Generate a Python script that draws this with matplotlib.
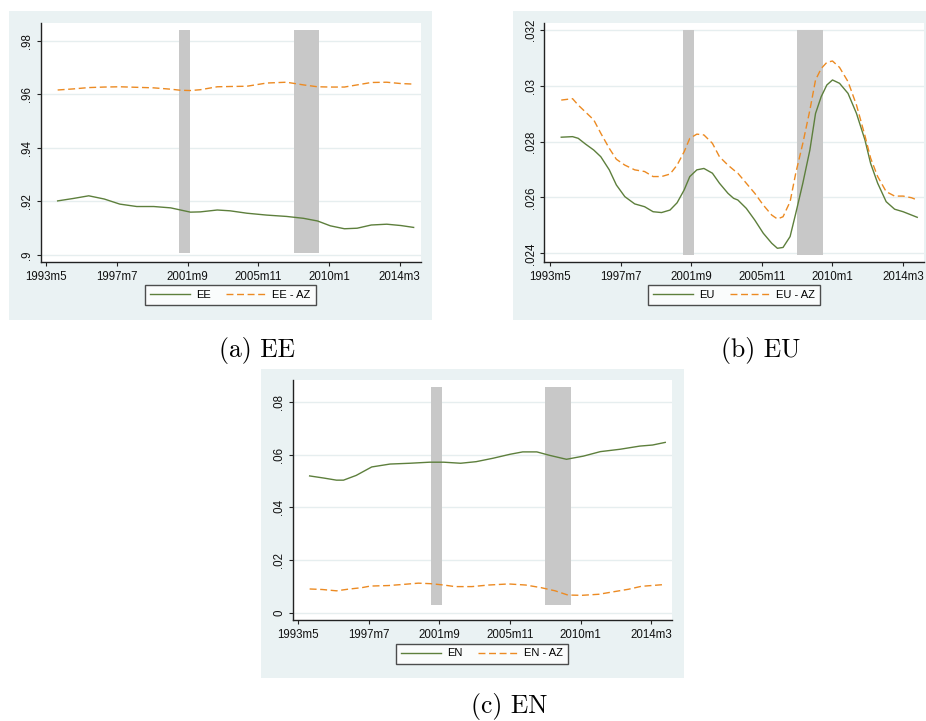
import matplotlib.pyplot as plt
from matplotlib.patches import Rectangle

W, H = 926, 721

# Panel (a) EE
ee_months = ["1994m1", "1994m12", "1995m11", "1996m10", "1997m9", "1998m9", "1999m9",
             "2000m9", "2001m4", "2001m11", "2002m6", "2003m6", "2004m3", "2005m3",
             "2006m5", "2007m7", "2008m7", "2009m5", "2010m2", "2010m12", "2011m9",
             "2012m7", "2013m6", "2014m4", "2015m1"]
ee = [0.9202, 0.9211, 0.9221, 0.9209, 0.9190, 0.9181, 0.9181, 0.9176, 0.9168, 0.9160,
      0.9161, 0.9168, 0.9165, 0.9156, 0.9149, 0.9144, 0.9137, 0.9127, 0.9109, 0.9098,
      0.9100, 0.9112, 0.9115, 0.9110, 0.9103]
ee_az = [0.9616, 0.9620, 0.9625, 0.9627, 0.9628, 0.9626, 0.9624, 0.9619, 0.9615, 0.9614,
         0.9617, 0.9628, 0.9629, 0.9630, 0.9642, 0.9645, 0.9635, 0.9628, 0.9627, 0.9627,
         0.9635, 0.9644, 0.9645, 0.9640, 0.9638]

# Panel (b) EU
eu_months = ["1994m1", "1994m9", "1995m1", "1995m6", "1995m12", "1996m5", "1996m11",
             "1997m4", "1997m10", "1998m5", "1998m12", "1999m6", "1999m12", "2000m6",
             "2000m11", "2001m4", "2001m8", "2002m1", "2002m6", "2002m12", "2003m5",
             "2003m11", "2004m3", "2004m6", "2004m12", "2005m6", "2005m12", "2006m6",
             "2006m10", "2007m2", "2007m7", "2007m11", "2008m4", "2008m9", "2009m1",
             "2009m5", "2009m9", "2010m1", "2010m6", "2010m12", "2011m6", "2011m12",
             "2012m4", "2012m9", "2013m3", "2013m9", "2014m3", "2014m9", "2015m1"]
eu = [0.02816, 0.02818, 0.02812, 0.02792, 0.02770, 0.02746, 0.02699, 0.02645, 0.02603,
      0.02577, 0.02567, 0.02549, 0.02546, 0.02555, 0.02581, 0.02627, 0.02675, 0.02699,
      0.02704, 0.02687, 0.02651, 0.02615, 0.02597, 0.02591, 0.02561, 0.02519, 0.02472,
      0.02436, 0.02418, 0.02421, 0.02460, 0.02543, 0.02651, 0.02770, 0.02901, 0.02961,
      0.03003, 0.03021, 0.03009, 0.02973, 0.02901, 0.02806, 0.02722, 0.02651, 0.02585,
      0.02558, 0.02549, 0.02537, 0.02529]
eu_az = [0.02949, 0.02954, 0.02931, 0.02907, 0.02878, 0.02830, 0.02776, 0.02737, 0.02716,
         0.02699, 0.02693, 0.02675, 0.02675, 0.02684, 0.02716, 0.02764, 0.02812, 0.02827,
         0.02824, 0.02794, 0.02746, 0.02716, 0.02699, 0.02687, 0.02651, 0.02615, 0.02573,
         0.02537, 0.02523, 0.02531, 0.02585, 0.02687, 0.02794, 0.02913, 0.03021, 0.03062,
         0.03084, 0.03089, 0.03066, 0.03015, 0.02931, 0.02821, 0.02741, 0.02675, 0.02621,
         0.02605, 0.02605, 0.02599, 0.02591]

# Panel (c) EN
en_months = ["1994m1", "1994m11", "1995m8", "1996m1", "1996m10", "1997m9", "1998m10",
             "1999m12", "2001m2", "2001m12", "2002m12", "2003m11", "2004m11", "2005m11",
             "2006m8", "2007m6", "2008m3", "2009m3", "2010m3", "2011m3", "2012m5",
             "2013m7", "2014m4", "2015m1"]
en = [0.0519, 0.0511, 0.0503, 0.0503, 0.0521, 0.0553, 0.0564, 0.0567, 0.0571, 0.0571,
      0.0567, 0.0573, 0.0586, 0.0601, 0.0610, 0.0610, 0.0597, 0.0582, 0.0594, 0.0611,
      0.0620, 0.0632, 0.0636, 0.0646]
en_az_months = ["1994m1", "1994m10", "1995m8", "1996m4", "1997m2", "1997m8", "1998m9",
                "1999m9", "2000m6", "2001m3", "2001m12", "2002m8", "2003m8", "2004m8",
                "2005m10", "2006m10", "2007m9", "2008m7", "2009m4", "2010m2", "2011m2",
                "2012m1", "2012m11", "2013m8", "2015m1"]
en_az = [0.0091, 0.0089, 0.0084, 0.0090, 0.0096, 0.0102, 0.0104, 0.0109, 0.0113, 0.0111,
         0.0106, 0.0100, 0.0100, 0.0106, 0.0110, 0.0106, 0.0096, 0.0084, 0.0068, 0.0067,
         0.0071, 0.0081, 0.0090, 0.0101, 0.0108]

# NBER recessions (shaded bars)
recessions = [("2001m3", "2001m11"), ("2007m12", "2009m6")]

x_ticklabels = ["1993m5", "1997m7", "2001m9", "2005m11", "2010m1", "2014m3"]

GREEN = "#5d7f3c"
ORANGE = "#ec8a22"
BG = "#eaf2f3"
BAR = "#c8c8c8"
GRID = "#e6eeef"
AXC = "#222222"


# Stata-style monthly date -> months since 1960m1
def mnum(s):
    y, m = s.split("m")
    return (int(y) - 1960) * 12 + int(m) - 1


def px_rect(x0, y0, x1, y1):
    # pixel box (top-left origin) -> figure fraction [left, bottom, width, height]
    return [x0 / W, 1 - y1 / H, (x1 - x0) / W, (y1 - y0) / H]


plt.rcParams["font.family"] = ["Liberation Sans", "DejaVu Sans"]
fig = plt.figure(figsize=(W / 100, H / 100), dpi=100)

panels = [
    # bg box, axes box, series, labels, y ticks, y labels, ylim, bar range, legend centre, caption
    dict(bg=(9, 11, 432, 320), ax=(40.7, 22.7, 420.7, 262),
         x1=ee_months, y1=ee, x2=ee_months, y2=ee_az, names=("EE", "EE - AZ"),
         yt=[0.9, 0.92, 0.94, 0.96, 0.98], yl=[".9", ".92", ".94", ".96", ".98"],
         ylim=(0.89739, 0.98672), bar=(0.9006, 0.9841), leg=(230.2, 295.3),
         cap="(a) EE", cap_xy=(257, 351)),
    dict(bg=(513, 11, 926, 320), ax=(544.3, 22.7, 924.3, 262.3),
         x1=eu_months, y1=eu, x2=eu_months, y2=eu_az, names=("EU", "EU - AZ"),
         yt=[0.024, 0.026, 0.028, 0.030, 0.032], yl=[".024", ".026", ".028", ".03", ".032"],
         ylim=(0.023678, 0.032262), bar=(0.02393, 0.0320), leg=(734.2, 295.3),
         cap="(b) EU", cap_xy=(761, 351)),
    dict(bg=(261, 369, 684, 678), ax=(292.7, 380, 672.3, 620.3),
         x1=en_months, y1=en, x2=en_az_months, y2=en_az, names=("EN", "EN - AZ"),
         yt=[0, 0.02, 0.04, 0.06, 0.08], yl=["0", ".02", ".04", ".06", ".08"],
         ylim=(-0.00276, 0.08822), bar=(0.0032, 0.0856), leg=(482.2, 653.5),
         cap="(c) EN", cap_xy=(509.5, 706)),
]

for p in panels:
    # light blue graph region, kept behind the axes
    x0, y0, x1, y1 = p["bg"]
    fig.patches.append(Rectangle((x0 / W, 1 - y1 / H), (x1 - x0) / W, (y1 - y0) / H,
                                 transform=fig.transFigure, facecolor=BG,
                                 edgecolor="none", zorder=-10))

    ax = fig.add_axes(px_rect(*p["ax"]))
    ax.set_zorder(1)
    ax.set_facecolor("white")

    # recession bars
    for start, end in recessions:
        ax.fill_between([mnum(start), mnum(end)], p["bar"][0], p["bar"][1],
                        color=BAR, linewidth=0, zorder=1)

    ax.plot([mnum(s) for s in p["x1"]], p["y1"], color=GREEN, lw=1.0,
            label=p["names"][0], zorder=3)
    ax.plot([mnum(s) for s in p["x2"]], p["y2"], color=ORANGE, lw=1.0,
            dashes=(5, 2.6), label=p["names"][1], zorder=3)

    ax.set_xlim(396, 665)
    ax.set_ylim(*p["ylim"])
    ax.set_xticks([mnum(s) for s in x_ticklabels])
    ax.set_xticklabels(x_ticklabels)
    ax.set_yticks(p["yt"])
    ax.set_yticklabels(p["yl"], rotation=90, va="center")

    ax.grid(axis="y", color=GRID, lw=1.0, zorder=0)
    ax.set_axisbelow(True)
    for side in ["top", "right"]:
        ax.spines[side].set_visible(False)
    for side in ["left", "bottom"]:
        ax.spines[side].set_color(AXC)
        ax.spines[side].set_linewidth(1.0)
    ax.tick_params(axis="both", direction="out", length=3.2, width=0.8, color=AXC,
                   labelsize=8.3, labelcolor="#111111")
    ax.tick_params(axis="x", pad=3.0)
    ax.tick_params(axis="y", pad=2.0)

    lx, ly = p["leg"]
    leg = ax.legend(loc="center", bbox_to_anchor=(lx / W, 1 - ly / H),
                    bbox_transform=fig.transFigure, ncol=2, fontsize=8,
                    frameon=True, fancybox=False, handlelength=3.6,
                    handletextpad=0.55, columnspacing=1.4, borderpad=0.45,
                    borderaxespad=0)
    leg.get_frame().set_edgecolor(AXC)
    leg.get_frame().set_linewidth(1.0)

    cx, cy = p["cap_xy"]
    fig.text(cx / W, 1 - cy / H, p["cap"], family="cmr10", fontsize=18.5,
             ha="center", va="center")

plt.savefig("out.png", dpi=100)
